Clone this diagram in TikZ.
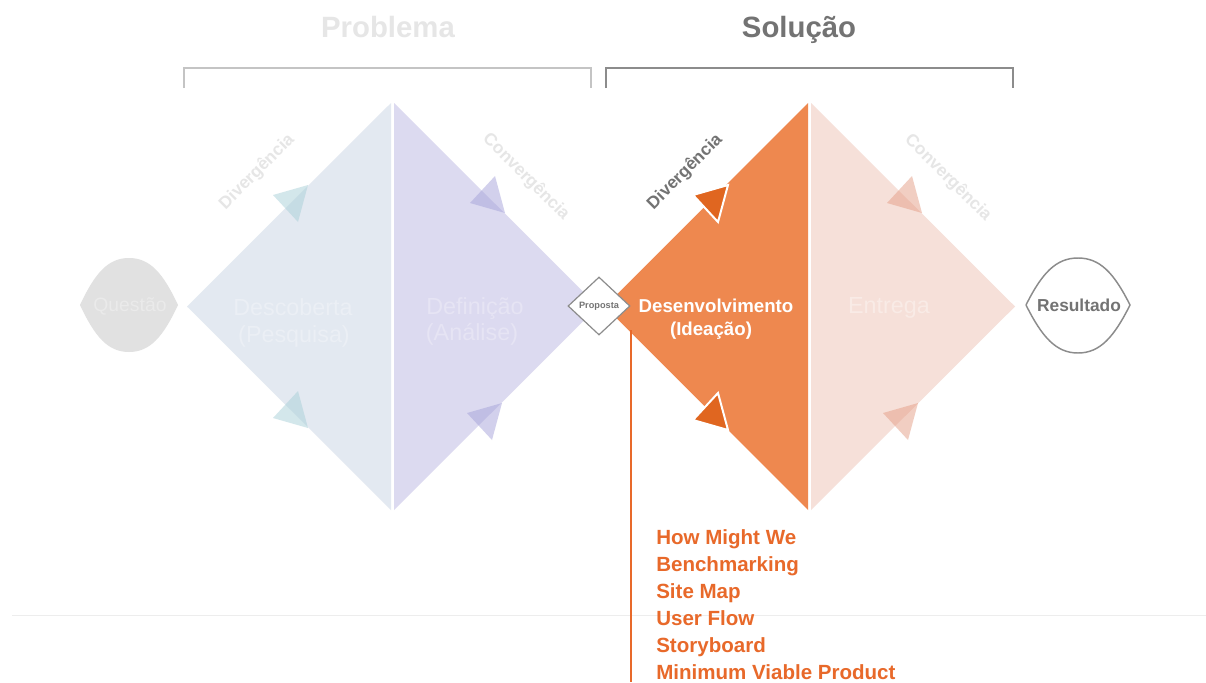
\documentclass[tikz,border=0pt]{standalone}
\usepackage{fontspec}
\setmainfont{Liberation Sans}
\usepackage{tikz}
\usetikzlibrary{shapes.geometric}
\definecolor{desccolor}{HTML}{E3E9F1}
\definecolor{deficolor}{HTML}{DCDAF0}
\definecolor{desecolor}{HTML}{EE884F}
\definecolor{entrcolor}{HTML}{F6E0D9}
\definecolor{questcolor}{HTML}{E1E1E1}
\definecolor{tooltextcolor}{HTML}{E8692A}
\definecolor{darkarrow}{HTML}{E06620}
\definecolor{tealarrow}{HTML}{A8D0D8}
\definecolor{lilacarrow}{HTML}{A6A3DA}
\definecolor{pinkarrow}{HTML}{E59E86}
\definecolor{fadedgrey}{HTML}{E6E6E6}
\definecolor{darkgrey}{HTML}{737373}
\definecolor{linegrey}{HTML}{8C8C8C}
\newcommand{\headup}[2]{% arrow head pointing up-right, tip at #2
\fill[#1] (#2) -- ++(-35,10) -- ++(25,27) -- cycle;}
\newcommand{\headdown}[2]{% arrow head pointing down-right, tip at #2
\fill[#1] (#2) -- ++(-35,-10) -- ++(25,-27) -- cycle;}
\tikzstyle{title} = [
    font=\bfseries\fontsize{22}{26}\selectfont,
    anchor=base,
    inner sep=0pt
    ]
\tikzstyle{phasetext} = [
    font=\fontsize{17.5}{21}\selectfont,
    anchor=base,
    inner sep=0pt
    ]
\tikzstyle{sidelabel} = [
    font=\bfseries\fontsize{13}{15}\selectfont,
    inner sep=0pt
    ]
\tikzstyle{tooltext} = [
    font=\bfseries\fontsize{15.4}{18}\selectfont,
    text=tooltextcolor,
    anchor=base west,
    inner sep=0pt
    ]
\tikzstyle{bracket} = [line width=1.1pt]

\begin{document}
\begin{tikzpicture}[x=0.75pt,y=-0.75pt]
\useasboundingbox (0,0) rectangle (1206,682);
\fill[white] (0,0) rectangle (1206,682);
\draw[color=black!7, line width=0.6pt] (12,615) -- (1206,615);

% titles
\node[title, text=fadedgrey] (problema) at (388,37) {Problema};
\node[title, text=darkgrey] (solucao) at (799,37) {Solução};
\draw[bracket, fadedgrey!85!black] (184,88) -- (184,68) -- (591,68) -- (591,88);
\draw[bracket, linegrey] (606,88) -- (606,68) -- (1013,68) -- (1013,88);

% the four halves
\fill[desccolor] (391,103) -- (187,306.5) -- (391,510) -- cycle;
\fill[deficolor] (394,103) -- (598,306.5) -- (394,510) -- cycle;
\fill[desecolor] (808,103) -- (605,306.5) -- (808,510) -- cycle;
\fill[entrcolor] (811,103) -- (1015,306.5) -- (811,510) -- cycle;

\headup{tealarrow, opacity=0.5}{308,185}
\headdown{tealarrow, opacity=0.5}{308,428}
\headdown{lilacarrow, opacity=0.5}{505,213}
\headup{lilacarrow, opacity=0.5}{502,403}
\headup{darkarrow, draw=white, line width=1.5pt}{728,185}
\headdown{darkarrow, draw=white, line width=1.5pt}{728,430}
\headdown{pinkarrow, opacity=0.5}{922,213}
\headup{pinkarrow, opacity=0.5}{918,403}

\node[sidelabel, text=fadedgrey, rotate=45] (div1) at (257,172) {Divergência};
\node[sidelabel, text=fadedgrey, rotate=-45] (conv1) at (526,177) {Convergência};
\node[sidelabel, text=darkgrey, rotate=45] (div2) at (685,172) {Divergência};
\node[sidelabel, text=fadedgrey, rotate=-45] (conv2) at (948,178) {Convergência};

\node[phasetext, text=desccolor!72!white] (desc) at (293,315) {Descoberta};
\node[phasetext, text=desccolor!72!white] (descsub) at (294,342) {(Pesquisa)};
\node[phasetext, text=deficolor!72!white] (defi) at (475,314) {Definição};
\node[phasetext, text=deficolor!72!white] (defisub) at (472,340) {(Análise)};
\node[phasetext, text=entrcolor!65!white] (entr) at (889,313) {Entrega};
\node[phasetext, text=white, font=\bfseries\fontsize{14}{17}\selectfont] (dese) at (716,312) {Desenvolvimento};
\node[phasetext, text=white, font=\bfseries\fontsize{14}{17}\selectfont] (desesub) at (711,335) {(Ideação)};

% start and end
\fill[questcolor] (80,305) .. controls (95,273) and (108,258) .. (129,258)
    .. controls (150,258) and (163,273) .. (178,305)
    .. controls (163,337) and (150,352) .. (129,352)
    .. controls (108,352) and (95,337) .. (80,305);
\node[inner sep=0pt, text=questcolor!70!white, font=\fontsize{14.5}{17}\selectfont, anchor=base] (quest) at (130,311) {Questão};
\draw[linegrey, line width=1.1pt, fill=white] (1026,305) .. controls (1042,273) and (1056,258) .. (1078,258)
    .. controls (1100,258) and (1114,273) .. (1130,305)
    .. controls (1114,337) and (1100,353) .. (1078,353)
    .. controls (1056,353) and (1042,337) .. (1026,305);
\node[inner sep=0pt, text=darkgrey, font=\bfseries\fontsize{13}{15}\selectfont, anchor=base] (result) at (1079,311) {Resultado};

\node[diamond, draw=linegrey, fill=white, line width=0.9pt, inner sep=0pt,
    minimum width=46.5pt, minimum height=43.5pt, text=darkgrey,
    font=\bfseries\fontsize{6.9}{8}\selectfont] (proposta) at (599,306) {Proposta};

% tools
\coordinate (linetop) at (631,330);
\coordinate (linebot) at (631,682);
\draw[tooltextcolor, line width=1.4pt] (linetop) -- (linebot);
\node[tooltext] (hmw) at (656,544) {How Might We};
\node[tooltext] (bench) at (656,571) {Benchmarking};
\node[tooltext] (sitemap) at (656,598) {Site Map};
\node[tooltext] (userflow) at (656,625) {User Flow};
\node[tooltext] (story) at (656,652) {Storyboard};
\node[tooltext] (mvp) at (656,679) {Minimum Viable Product};
\end{tikzpicture}
\end{document}
